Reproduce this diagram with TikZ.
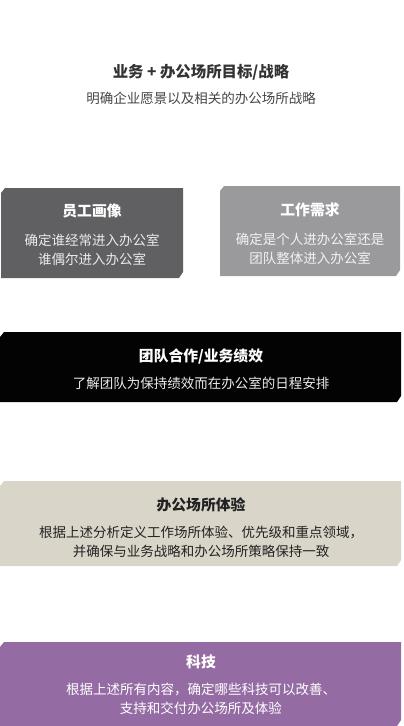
\documentclass[tikz,border=0pt]{standalone}
\usepackage{fontspec}
\setmainfont{Noto Sans CJK SC}
\definecolor{cTitle}{HTML}{333333}
\definecolor{cSub}{HTML}{444444}
\definecolor{cDark}{HTML}{606062}
\definecolor{cMid}{HTML}{9A9A9C}
\definecolor{cBlack}{HTML}{030303}
\definecolor{cBeige}{HTML}{DAD5C9}
\definecolor{cPurple}{HTML}{946CA3}
\definecolor{cBeigeText}{HTML}{222222}
\tikzset{
  head/.style={font=\fontsize{14.8}{16}\selectfont\bfseries, inner sep=0pt},
  body/.style={font=\fontsize{13.5}{19}\selectfont, inner sep=0pt, align=center},
}
\newcommand{\chambox}[5]{% color, x1, y1, x2, y2
  \fill[#1] (#2,#3+5) -- (#2+4,#3) -- (#4,#3) -- (#4,#5-6) -- (#4-4,#5) -- (#2,#5) -- cycle;
}
\begin{document}
\begin{tikzpicture}[x=1pt,y=-1pt]
\useasboundingbox (0,0) rectangle (404,726);
% title
\node[head, text=cTitle, font=\fontsize{15.4}{17}\selectfont\bfseries] (title) at (201,72) {业务 + 办公场所目标/战略};
\node[body, text=cSub] (sub) at (201,98) {明确企业愿景以及相关的办公场所战略};
% box 1
\chambox{cDark}{1}{188}{183}{278}
\node[head, text=white] (h1) at (92,211) {员工画像};
\node[body, text=white!92!black] (b1) at (92,249.5) {确定谁经常进入办公室\\谁偶尔进入办公室};
% box 2
\chambox{cMid}{220}{186}{400}{276}
\node[head, text=white] (h2) at (310,210) {工作需求};
\node[body, text=white!95!black] (b2) at (310,248.5) {确定是个人进办公室还是\\团队整体进入办公室};
% box 3
\chambox{cBlack}{0}{332}{401}{402}
\node[head, text=white] (h3) at (201,356) {团队合作/业务绩效};
\node[body, text=white!92!black] (b3) at (201,383) {了解团队为保持绩效而在办公室的日程安排};
% box 4
\chambox{cBeige}{0}{481}{401}{566}
\node[head, text=cBeigeText] (h4) at (201,505) {办公场所体验};
\node[body, text=cBeigeText] (b4) at (201,542) {根据上述分析定义工作场所体验、优先级和重点领域，\\并确保与业务战略和办公场所策略保持一致};
% box 5
\chambox{cPurple}{0}{642}{401}{726}
\node[head, text=white] (h5) at (201,662) {科技};
\node[body, text=white] (b5) at (201,699) {根据上述所有内容，确定哪些科技可以改善、\\支持和交付办公场所及体验};
\end{tikzpicture}
\end{document}
